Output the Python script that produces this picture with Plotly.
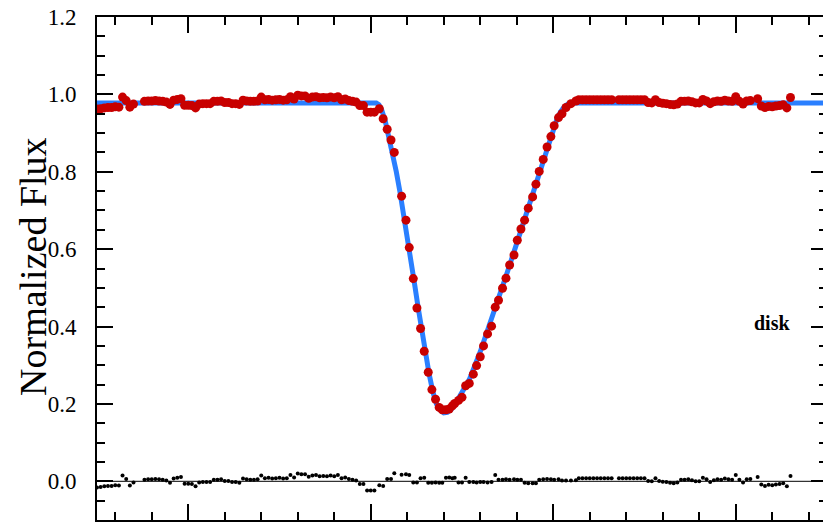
import plotly.graph_objects as go

# ---------------- data (time in hours, arbitrary zero) ----------------
# out-of-transit, before ingress
t_pre = [-0.50, -0.48, -0.46, -0.44, -0.42, -0.40, -0.38, -0.36, -0.34, -0.32, -0.30,
         -0.24, -0.22, -0.20, -0.18, -0.16, -0.14, -0.12, -0.10, -0.08, -0.06, -0.04,
         -0.02, 0.00, 0.02, 0.04, 0.06, 0.08, 0.10, 0.12, 0.14, 0.16, 0.18, 0.20, 0.22,
         0.24, 0.26, 0.28, 0.30, 0.32, 0.34, 0.36, 0.38, 0.40, 0.42, 0.44, 0.46, 0.48,
         0.50, 0.52, 0.54, 0.56, 0.58, 0.60, 0.62, 0.64, 0.66, 0.68, 0.70, 0.72, 0.74,
         0.76, 0.78, 0.80, 0.82, 0.84, 0.86, 0.88, 0.90, 0.92, 0.94, 0.96, 0.98, 1.00, 1.02]
f_pre = [0.962, 0.963, 0.965, 0.966, 0.966, 0.968, 0.967, 0.993, 0.984, 0.967, 0.975,
         0.982, 0.983, 0.983, 0.984, 0.983, 0.982, 0.980, 0.974, 0.985, 0.987, 0.989,
         0.972, 0.972, 0.971, 0.965, 0.975, 0.976, 0.976, 0.976, 0.982, 0.982, 0.983,
         0.979, 0.979, 0.976, 0.976, 0.974, 0.985, 0.983, 0.982, 0.982, 0.983, 0.993,
         0.986, 0.987, 0.985, 0.986, 0.987, 0.985, 0.986, 0.994, 0.988, 0.998, 0.996,
         0.996, 0.990, 0.993, 0.994, 0.991, 0.992, 0.991, 0.993, 0.991, 0.994, 0.986,
         0.988, 0.984, 0.982, 0.980, 0.971, 0.971, 0.954, 0.954, 0.954]
r_pre = [-0.016, -0.015, -0.013, -0.012, -0.012, -0.010, -0.011, 0.015, 0.006, -0.011, -0.003,
         0.004, 0.005, 0.005, 0.006, 0.005, 0.004, 0.002, -0.004, 0.007, 0.009, 0.011,
         -0.006, -0.006, -0.007, -0.013, -0.003, -0.002, -0.002, -0.002, 0.004, 0.004, 0.005,
         0.001, 0.001, -0.002, -0.002, -0.004, 0.007, 0.005, 0.004, 0.004, 0.005, 0.015,
         0.008, 0.009, 0.007, 0.008, 0.009, 0.007, 0.008, 0.016, 0.010, 0.020, 0.018,
         0.018, 0.012, 0.015, 0.016, 0.013, 0.014, 0.013, 0.015, 0.013, 0.016, 0.008,
         0.010, 0.006, 0.004, 0.002, -0.007, -0.007, -0.024, -0.024, -0.024]

# in transit
t_in = [1.047, 1.068, 1.090, 1.111, 1.129, 1.169, 1.193, 1.211, 1.233, 1.253, 1.273,
        1.293, 1.315, 1.335, 1.355, 1.375, 1.392, 1.412, 1.430, 1.447, 1.460, 1.481,
        1.500, 1.520, 1.540, 1.562, 1.580, 1.600, 1.618, 1.640, 1.662, 1.682, 1.700,
        1.722, 1.741, 1.761, 1.785, 1.803, 1.823, 1.843, 1.863, 1.887, 1.905, 1.923,
        1.945, 1.966, 1.987, 2.005, 2.029, 2.048, 2.070, 2.097, 2.124]
f_in = [0.963, 0.937, 0.910, 0.882, 0.850, 0.737, 0.675, 0.604, 0.524, 0.448, 0.395,
        0.336, 0.282, 0.237, 0.212, 0.191, 0.185, 0.185, 0.187, 0.195, 0.201, 0.209,
        0.217, 0.247, 0.253, 0.277, 0.299, 0.322, 0.350, 0.381, 0.401, 0.450, 0.468,
        0.499, 0.525, 0.559, 0.585, 0.623, 0.652, 0.675, 0.706, 0.735, 0.768, 0.801,
        0.832, 0.864, 0.891, 0.919, 0.940, 0.950, 0.966, 0.976, 0.983]
r_in = [-0.010, -0.012, 0.006, 0.006, 0.021, 0.017, 0.018, 0.016, -0.003, -0.003, 0.008,
        0.009, -0.004, -0.004, -0.003, -0.004, -0.004, 0.009, 0.010, 0.008, 0.009, -0.003,
        -0.003, 0.009, -0.002, -0.002, -0.003, -0.002, -0.002, -0.003, -0.002, 0.016, 0.004,
        0.004, 0.005, 0.004, 0.005, 0.004, 0.004, -0.004, -0.005, -0.005, -0.005, 0.004,
        0.005, 0.006, 0.005, 0.004, 0.005, 0.002, 0.002, 0.002, 0.003]

# out-of-transit, after egress
t_post = [2.14, 2.16, 2.18, 2.20, 2.22, 2.24, 2.26, 2.28, 2.30, 2.32,
          2.36, 2.38, 2.40, 2.42, 2.44, 2.46, 2.48, 2.50, 2.52, 2.54, 2.56, 2.58,
          2.60, 2.62, 2.64, 2.66, 2.68, 2.70, 2.72, 2.74, 2.76, 2.78, 2.80, 2.82,
          2.84, 2.86, 2.88, 2.90, 2.92, 2.94, 2.96, 2.98, 3.00, 3.02, 3.04, 3.06,
          3.08, 3.12, 3.14, 3.16, 3.18, 3.20, 3.22, 3.24, 3.26, 3.28, 3.30]
f_post = [0.986, 0.986, 0.986, 0.986, 0.986, 0.986, 0.986, 0.986, 0.986, 0.986,
          0.986, 0.986, 0.986, 0.986, 0.986, 0.986, 0.986, 0.986, 0.979, 0.978, 0.986, 0.979,
          0.977, 0.976, 0.974, 0.973, 0.975, 0.982, 0.982, 0.983, 0.981, 0.978, 0.978, 0.987,
          0.983, 0.976, 0.981, 0.983, 0.982, 0.985, 0.983, 0.982, 0.994, 0.982, 0.975, 0.983,
          0.984, 0.989, 0.970, 0.966, 0.969, 0.968, 0.970, 0.971, 0.973, 0.965, 0.992]
r_post = [0.008, 0.008, 0.008, 0.008, 0.008, 0.008, 0.008, 0.008, 0.008, 0.008,
          0.008, 0.008, 0.008, 0.008, 0.008, 0.008, 0.008, 0.008, 0.001, 0.000, 0.008, 0.001,
          -0.001, -0.002, -0.004, -0.005, -0.003, 0.004, 0.004, 0.005, 0.003, 0.000, 0.000, 0.009,
          0.005, -0.002, 0.003, 0.005, 0.004, 0.007, 0.005, 0.004, 0.016, 0.004, -0.003, 0.005,
          0.006, 0.011, -0.008, -0.012, -0.009, -0.010, -0.008, -0.007, -0.005, -0.013, 0.014]

# transit model (blue curve)
t_model = [-0.50, 1.03, 1.045, 1.06, 1.08, 1.10, 1.12, 1.14, 1.16, 1.18, 1.20, 1.22, 1.24,
           1.26, 1.28, 1.30, 1.32, 1.34, 1.36, 1.38, 1.40, 1.42, 1.44, 1.46, 1.48, 1.50,
           1.52, 1.54, 1.60, 1.65, 1.70, 1.75, 1.80, 1.85, 1.90, 1.95, 1.98, 2.00, 2.02,
           2.04, 2.06, 2.08, 2.10, 3.50]
f_model = [0.978, 0.978, 0.973, 0.960, 0.930, 0.890, 0.848, 0.800, 0.748, 0.693, 0.636,
           0.575, 0.510, 0.448, 0.388, 0.330, 0.277, 0.232, 0.200, 0.184, 0.177, 0.178,
           0.185, 0.197, 0.212, 0.228, 0.245, 0.263, 0.335, 0.402, 0.472, 0.543, 0.615,
           0.688, 0.762, 0.838, 0.884, 0.912, 0.936, 0.955, 0.968, 0.975, 0.978, 0.978]

zero_x = [-0.5, 3.5]
zero_y = [0.0, 0.0]

time = t_pre + t_in + t_post
flux = f_pre + f_in + f_post
resid = r_pre + r_in + r_post

RED = "#c80000"
BLUE = "#2a7fff"
SERIF = "Liberation Serif"

fig = go.Figure()
fig.add_trace(go.Scatter(x=zero_x, y=zero_y, mode="lines",
                         line=dict(color="black", width=1), hoverinfo="skip"))
fig.add_trace(go.Scatter(x=time, y=resid, mode="markers",
                         marker=dict(color="black", size=4), name="residuals"))
fig.add_trace(go.Scatter(x=t_model, y=f_model, mode="lines",
                         line=dict(color=BLUE, width=5), name="model"))
fig.add_trace(go.Scatter(x=time, y=flux, mode="markers",
                         marker=dict(color=RED, size=9, line=dict(width=0)), name="data"))

fig.add_annotation(x=3.20, y=0.41, xref="x", yref="y", text="<b>disk</b>",
                   showarrow=False, font=dict(family=SERIF, size=20, color="black"))

# y-axis title placed explicitly
fig.add_annotation(x=-0.0877, y=0.505, xref="paper", yref="paper", text="Normalized Flux",
                   textangle=-90, showarrow=False, xanchor="center", yanchor="middle",
                   borderpad=0,
                   font=dict(family=SERIF, size=38, color="black"))

axis_common = dict(showline=True, linecolor="black", linewidth=2, mirror="allticks",
                   ticks="inside", tickcolor="black", tickwidth=1.5, ticklen=16,
                   showgrid=False, zeroline=False, automargin=False)

fig.update_xaxes(range=[-0.5, 3.5], tick0=0, dtick=1, showticklabels=False,
                 minor=dict(ticks="inside", ticklen=8, tickwidth=1.5, tickcolor="black",
                            tick0=0, dtick=0.2, showgrid=False),
                 **axis_common)
fig.update_yaxes(range=[-0.1, 1.2], tick0=0, dtick=0.2, tickformat=".1f",
                 tickfont=dict(family=SERIF, size=23, color="black"),
                 ticklabelstandoff=14, ticklabeloverflow="allow",
                 minor=dict(ticks="inside", ticklen=8, tickwidth=1.5, tickcolor="black",
                            tick0=0, dtick=0.05, showgrid=False),
                 **axis_common)

# the page adds an 8px body margin, so margins are offset accordingly
fig.update_layout(width=831, height=526, margin=dict(l=89, r=12, t=9, b=14, pad=0),
                  paper_bgcolor="white", plot_bgcolor="white", showlegend=False,
                  font=dict(family=SERIF, color="black"))

fig.write_html("out.html")
